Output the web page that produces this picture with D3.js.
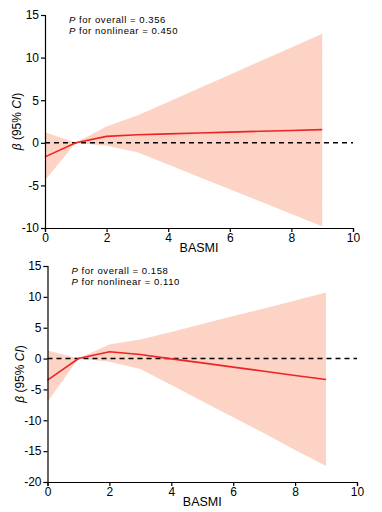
<!DOCTYPE html>
<html>
<head>
<meta charset="utf-8">
<script src="https://cdn.jsdelivr.net/npm/d3@7"></script>
<style>
  body { margin: 0; background: #fff; }
  svg text { font-family: "Liberation Sans", Arial, sans-serif; }
</style>
</head>
<body>
<div id="chart"></div>
<script>
// shared x positions (BASMI)
const basmi = [0, 1, 2, 3, 4, 5, 6, 7, 8, 9];
const xTicks = [0, 2, 4, 6, 8, 10];

// panel 1
const beta1 = [-1.65, 0, 0.75, 0.95, 1.05, 1.15, 1.25, 1.35, 1.45, 1.55];
const upper1 = [1.25, 0, 1.9, 3.2, 4.8, 6.4, 8.0, 9.6, 11.2, 12.8];
const lower1 = [-4.4, 0, -0.35, -1.1, -2.55, -4.0, -5.45, -6.9, -8.35, -9.8];
const yTicks1 = [-10, -5, 0, 5, 10, 15];
const notes1 = ["0.356", "0.450"];

// panel 2
const beta2 = [-3.5, 0, 1.1, 0.65, -0.05, -0.7, -1.38, -2.05, -2.73, -3.4];
const upper2 = [1.3, 0, 2.3, 3.1, 4.3, 5.6, 6.9, 8.1, 9.4, 10.7];
const lower2 = [-7.0, 0, -0.5, -1.7, -4.3, -6.9, -9.5, -12.1, -14.8, -17.4];
const yTicks2 = [-20, -15, -10, -5, 0, 5, 10, 15];
const notes2 = ["0.158", "0.110"];

const svg = d3.select("#chart").append("svg")
    .attr("width", 382)
    .attr("height", 512);

function panel(opts) {
    const x = d3.scaleLinear().domain([0, 10]).range([opts.left, opts.right]);
    const y = d3.scaleLinear().domain(opts.yDomain).range([opts.bottom, opts.top]);
    const g = svg.append("g");
    const rows = basmi.map((b, i) => ({x: b, beta: opts.beta[i], lo: opts.lower[i], hi: opts.upper[i]}));

    //band
    g.append("path")
        .datum(rows)
        .attr("fill", "#fcd3c4")
        .attr("d", d3.area().x(d => x(d.x)).y0(d => y(d.lo)).y1(d => y(d.hi)));

    //reference line
    g.append("line")
        .attr("x1", x(0)).attr("x2", x(10))
        .attr("y1", y(0)).attr("y2", y(0))
        .attr("stroke", "#000")
        .attr("stroke-width", 1.5)
        .attr("stroke-dasharray", "5,4");

    //estimate
    g.append("path")
        .datum(rows)
        .attr("fill", "none")
        .attr("stroke", "#ee2424")
        .attr("stroke-width", 1.6)
        .attr("d", d3.line().x(d => x(d.x)).y(d => y(d.beta)));

    //axes
    g.append("g")
        .attr("transform", `translate(0,${opts.bottom})`)
        .call(d3.axisBottom(x).tickValues(xTicks).tickSize(4).tickPadding(1).tickFormat(d3.format("d")))
        .call(a => a.selectAll("text").style("font-size", "12px").attr("fill", "#000"));
    g.append("g")
        .attr("transform", `translate(${opts.left},0)`)
        .call(d3.axisLeft(y).tickValues(opts.yTicks).tickSize(4).tickPadding(2).tickFormat(d => String(d)))
        .call(a => a.selectAll("text").style("font-size", "12px").attr("fill", "#000"));
    g.selectAll(".domain").attr("stroke", "#000").attr("stroke-width", 1.2);
    g.selectAll(".tick line").attr("stroke", "#000").attr("stroke-width", 1.2);

    //labels
    g.append("text")
        .attr("x", (opts.left + opts.right) / 2)
        .attr("y", opts.bottom + 24)
        .attr("text-anchor", "middle")
        .style("font-size", "12.5px")
        .text("BASMI");

    const yl = g.append("text")
        .attr("transform", `translate(${opts.left - 24},${(opts.top + opts.bottom) / 2}) rotate(-90)`)
        .attr("text-anchor", "middle")
        .style("font-size", "12px");
    yl.append("tspan").attr("font-style", "italic").text("β");
    yl.append("tspan").text(" (95% ");
    yl.append("tspan").attr("font-style", "italic").text("CI");
    yl.append("tspan").text(")");

    const labels = ["for overall = ", "for nonlinear = "];
    labels.forEach((l, i) => {
        const t = g.append("text")
            .attr("x", opts.left + 24)
            .attr("y", opts.top + 8 + i * 11)
            .style("font-size", "9.5px")
            .style("letter-spacing", "0.55px");
        t.append("tspan").attr("font-style", "italic").text("P");
        t.append("tspan").text(" " + l + opts.notes[i]);
    });
}

panel({left: 45, right: 353, top: 15, bottom: 228, yDomain: [-10, 15],
       yTicks: yTicks1, beta: beta1, upper: upper1, lower: lower1, notes: notes1});
panel({left: 47.5, right: 357, top: 266, bottom: 482, yDomain: [-20, 15],
       yTicks: yTicks2, beta: beta2, upper: upper2, lower: lower2, notes: notes2});
</script>
</body>
</html>
